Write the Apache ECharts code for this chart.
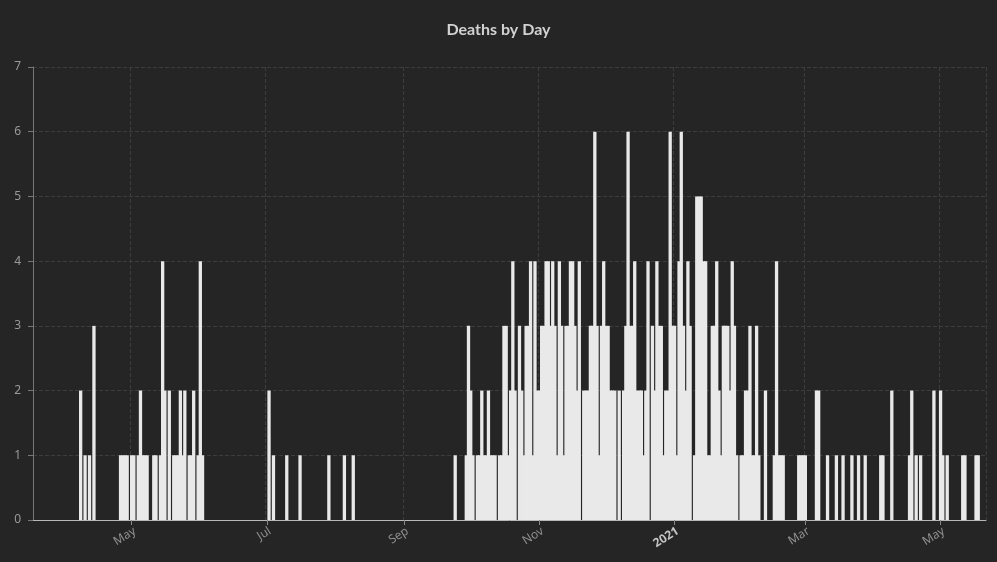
<!DOCTYPE html>
<html><head><meta charset="utf-8">
<script src="https://cdn.jsdelivr.net/npm/echarts@6/dist/echarts.min.js"></script>
<style>html,body{margin:0;padding:0;background:#252525}#c{width:997px;height:562px}</style>
</head><body><div id="c"></div>
<script>
const chartTitle = 'Deaths by Day';

// Daily deaths, one small array per month; first date of each block given below.
const mar2020 = [0,0,0,0,0,0,0,0,0,0,0,0,0,0]; // starts 2020-03-18
const apr2020 = [0,0,0,0,0,0,0,2,0,1,0,1,0,3,0,0,0,0,0,0,0,0,0,0,0,1,1,1,1,0];
const may2020 = [1,1,0,1,2,1,1,1,0,0,1,1,0,1,4,2,0,2,0,1,1,1,2,1,2,0,1,1,2,0,1];
const jun2020 = [4,1,0,0,0,0,0,0,0,0,0,0,0,0,0,0,0,0,0,0,0,0,0,0,0,0,0,0,0,0];
const jul2020 = [0,2,0,1,0,0,0,0,0,1,0,0,0,0,0,1,0,0,0,0,0,0,0,0,0,0,0,0,1,0,0];
const aug2020 = [0,0,0,0,1,0,0,0,1,0,0,0,0,0,0,0,0,0,0,0,0,0,0,0,0,0,0,0,0,0,0];
const sep2020 = [0,0,0,0,0,0,0,0,0,0,0,0,0,0,0,0,0,0,0,0,0,0,0,1,0,0,0,0,1,3];
const oct2020 = [2,1,0,1,1,2,1,1,2,1,1,1,0,1,1,3,3,1,2,4,2,0,3,2,1,3,3,4,1,4,2];
const nov2020 = [2,3,3,4,4,3,4,3,1,4,3,1,3,3,4,4,3,2,4,0,2,2,2,3,3,6,3,1,3,4];
const dec2020 = [3,3,2,2,2,0,2,0,2,3,6,3,3,4,2,2,2,1,2,4,0,3,2,4,3,3,1,2,2,6,3];
const jan2021 = [3,1,4,6,3,2,4,3,0,1,5,5,5,4,4,1,1,3,3,4,2,1,3,3,3,2,4,3,1,0,1];
const feb2021 = [1,2,2,3,1,1,3,1,0,0,2,0,0,0,1,4,1,1,1,0,0,0,0,0,0,1,1,1];
const mar2021 = [1,0,0,0,0,2,2,0,0,0,1,0,0,0,1,0,0,1,0,0,0,1,0,0,1,0,0,1,0,0,0];
const apr2021 = [0,0,0,1,1,0,0,0,2,0,0,0,0,0,0,0,1,2,0,1,0,1,0,0,0,0,0,2,0,0];
const may2021 = [2,1,0,1,0,0,0,0,0,0,1,1,0,0,0,0,1,1,0,0,0];

const monthBlocks = [
  ['2020-03-18', mar2020], ['2020-04-01', apr2020], ['2020-05-01', may2020],
  ['2020-06-01', jun2020], ['2020-07-01', jul2020], ['2020-08-01', aug2020],
  ['2020-09-01', sep2020], ['2020-10-01', oct2020], ['2020-11-01', nov2020],
  ['2020-12-01', dec2020], ['2021-01-01', jan2021], ['2021-02-01', feb2021],
  ['2021-03-01', mar2021], ['2021-04-01', apr2021], ['2021-05-01', may2021]
];

// x-axis tick dates and their labels
const tickDates = ['2020-05-01','2020-07-01','2020-09-01','2020-11-01','2021-01-01','2021-03-01','2021-05-01'];
const tickLabels = ['May','Jul','Sep','Nov','2021','Mar','May'];
const boldTicks = ['2021'];

// y-axis
const yMin = 0, yMax = 7, yStep = 1;

// build categories (dates) and values
const categories = [];
const values = [];
monthBlocks.forEach(([start, arr]) => {
  const [y, m, d] = start.split('-').map(Number);
  arr.forEach((v, k) => {
    const dt = new Date(Date.UTC(y, m - 1, d + k));
    categories.push(dt.toISOString().slice(0, 10));
    values.push(v);
  });
});

const isTick = (idx, val) => tickDates.indexOf(val != null ? val : categories[idx]) >= 0;
const fmtTick = (val) => {
  const i = tickDates.indexOf(val);
  if (i < 0) return '';
  const t = tickLabels[i];
  return boldTicks.indexOf(t) >= 0 ? '{b|' + t + '}' : t;
};

const chart = echarts.init(document.getElementById('c'), null, { renderer: 'canvas' });
chart.setOption({
  backgroundColor: '#252525',
  animation: false,
  title: {
    text: chartTitle, left: 'center', top: 17,
    textStyle: { color: '#d2d2d2', fontSize: 16, fontWeight: 'bold', fontFamily: 'Lato' }
  },
  grid: { left: 33, right: 11, top: 67, bottom: 42 },
  xAxis: {
    type: 'category', data: categories, boundaryGap: true,
    axisLine: { lineStyle: { color: '#b8b8b8', width: 1 } },
    axisTick: { show: true, alignWithLabel: true, interval: isTick, length: 5, lineStyle: { color: '#888' } },
    axisLabel: {
      interval: isTick, rotate: 32, formatter: fmtTick, color: '#8e8e8e',
      fontSize: 12, fontFamily: 'Noto Sans', margin: 5, verticalAlign: 'top',
      rich: { b: { fontWeight: 'bold', color: '#c4c4c4', fontSize: 12, fontFamily: 'Noto Sans' } }
    },
    splitLine: { show: true, interval: isTick, lineStyle: { color: '#3d3d3d', type: 'dashed' } }
  },
  yAxis: {
    type: 'value', min: yMin, max: yMax, interval: yStep,
    axisLine: { show: true, lineStyle: { color: '#777' } },
    axisTick: { show: true, length: 5, lineStyle: { color: '#777' } },
    axisLabel: { color: '#9a9a9a', fontSize: 12, fontFamily: 'Noto Sans', margin: 12 },
    splitLine: { show: true, lineStyle: { color: '#3d3d3d', type: 'dashed' } }
  },
  series: [{
    type: 'bar', data: values, barWidth: 3.3,
    itemStyle: { color: '#e9e9e9' }
  }]
});
</script>
</body></html>
